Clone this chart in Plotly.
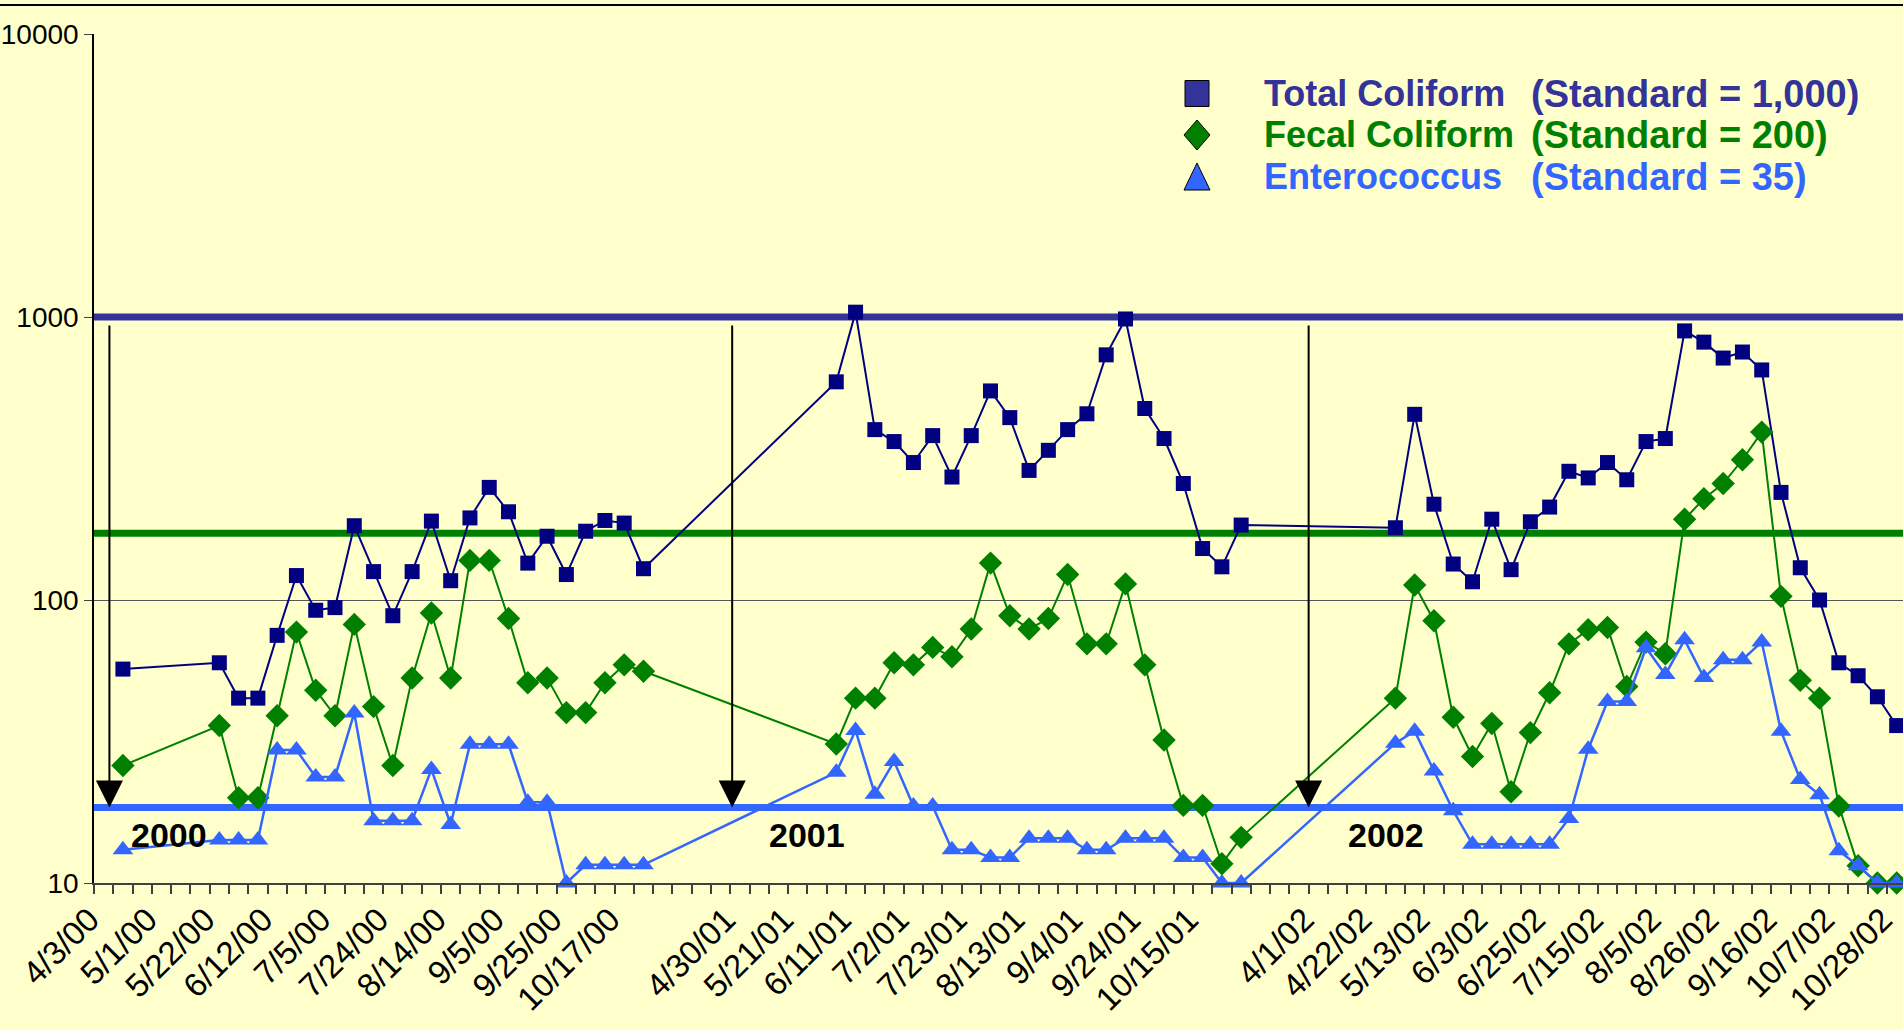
import numpy as np
import plotly.graph_objects as go

# sample slots on the category axis (one slot per sampling date)
idx_2000 = [1] + list(range(6, 29))
idx_2001 = list(range(38, 60))
idx_2002 = list(range(67, 94))

total_2000 = [57, 60, 45, 45, 75, 122, 92, 94, 183, 126, 88, 126, 190, 117, 195, 250,
              205, 135, 168, 123, 175, 191, 187, 129]
fecal_2000 = [26, 36, 20, 20, 39, 77, 48, 39, 82, 42, 26, 53, 90, 53, 138, 138,
              86, 51, 53, 40, 40, 51, 59, 56]
entero_2000 = [13.1, 14.2, 14.2, 14.2, 29.5, 29.5, 23.7, 23.7, 39.9, 16.6, 16.6, 16.6, 25.2,
               16.1, 30.9, 30.9, 30.9, 19.3, 19.3, 10, 11.6, 11.6, 11.6, 11.6]

total_2001 = [590, 1040, 400, 363, 306, 381, 272, 381, 548, 441, 287, 338, 400, 455,
              735, 984, 475, 372, 258, 152, 131, 184]
fecal_2001 = [31, 45, 45, 60, 59, 68, 63, 79, 135, 88, 79, 86, 123, 70, 70, 114,
              59, 32, 18.8, 18.8, 11.7, 14.5]
entero_2001 = [24.6, 34.6, 20.6, 26.9, 18.7, 18.7, 13.1, 13.1, 12.3, 12.3, 14.4, 14.4, 14.4,
               13.1, 13.1, 14.4, 14.4, 14.4, 12.3, 12.3, 10, 10]

total_2002 = [180, 453, 218, 134, 116, 193, 128, 189, 213, 285, 270, 306, 266, 363, 372,
              893, 815, 716, 752, 650, 240, 130, 100, 60, 54, 45.5, 36]
fecal_2002 = [45, 113, 84.5, 38.5, 28, 36.6, 21, 34, 47, 70, 78.5, 80, 49.5, 71, 64.6,
              193, 228, 258, 313, 392, 103, 52, 45, 18.7, 11.5, 10, 10]
entero_2002 = [31.2, 34.4, 24.9, 18, 13.7, 13.7, 13.7, 13.7, 13.7, 16.9, 29.7, 43.8, 43.8,
               67.8, 54.5, 72.3, 53.2, 61.5, 61.5, 71.1, 34.4, 23.2, 20.5, 13, 11.5, 10, 10]

# every third category carries a label
tick_labels = ["4/3/00", "5/1/00", "5/22/00", "6/12/00", "7/5/00", "7/24/00", "8/14/00",
               "9/5/00", "9/25/00", "10/17/00", "",
               "4/30/01", "5/21/01", "6/11/01", "7/2/01", "7/23/01", "8/13/01", "9/4/01",
               "9/24/01", "10/15/01", "",
               "4/1/02", "4/22/02", "5/13/02", "6/3/02", "6/25/02", "7/15/02", "8/5/02",
               "8/26/02", "9/16/02", "10/7/02", "10/28/02"]
n_categories = 94

series_names = ["Total Coliform", "Fecal Coliform", "Enterococcus"]
standard_text = ["(Standard = 1,000)", "(Standard = 200)", "(Standard = 35)"]
standard_lines = [1000, 172, 18.5]   # drawn levels as they appear on the chart

years = ["2000", "2001", "2002"]
year_x = [3.4, 36.5, 66.5]
arrow_x = [0.3, 32.6, 62.5]

NAVY = "#000080"
NAVY_STD = "#333399"
GREEN = "#008000"
BLUE = "#3366FF"
BG = "#FFFFCC"

W, H = 1903, 1030
ML, MR, MT, MB = 94, 0, 34, 147
PW, PH = W - ML - MR, H - MT - MB


def px(x):
    return (x - ML) / PW


def py(y):
    return (H - MB - y) / PH


x_all = idx_2000 + idx_2001 + idx_2002
total = total_2000 + total_2001 + total_2002
fecal = fecal_2000 + fecal_2001 + fecal_2002
entero = entero_2000 + entero_2001 + entero_2002

fig = go.Figure()

for val, col in zip(standard_lines, [NAVY_STD, GREEN, BLUE]):
    fig.add_trace(go.Scatter(x=[-0.6, n_categories], y=[val, val], mode="lines",
                             line=dict(color=col, width=7), hoverinfo="skip"))

fig.add_trace(go.Scatter(x=x_all, y=total, mode="lines+markers", name=series_names[0],
                         line=dict(color=NAVY, width=2),
                         marker=dict(symbol="square", size=15, color=NAVY),
                         cliponaxis=False))
fig.add_trace(go.Scatter(x=x_all, y=fecal, mode="lines+markers", name=series_names[1],
                         line=dict(color=GREEN, width=2),
                         marker=dict(symbol="diamond", size=18, color=GREEN),
                         cliponaxis=False))
fig.add_trace(go.Scatter(x=x_all, y=entero, mode="lines+markers", name=series_names[2],
                         line=dict(color=BLUE, width=2.5),
                         marker=dict(symbol="triangle-up", size=18, color=BLUE),
                         cliponaxis=False))

# arrows marking the start of each season
for xa in arrow_x:
    fig.add_annotation(x=xa, y=np.log10(18.5), ax=xa, ay=np.log10(945),
                       xref="x", yref="y", axref="x", ayref="y", text="",
                       showarrow=True, arrowhead=2, arrowsize=2.7, arrowwidth=2,
                       arrowcolor="black", standoff=0)

for xv, yr in zip(year_x, years):
    fig.add_annotation(x=xv, y=np.log10(14.8), text=f"<b>{yr}</b>", showarrow=False,
                       xref="x", yref="y", font=dict(size=34, color="black"))

# legend drawn by hand so the symbols and coloured text match
rows = [93.5, 135, 177]
sx = 1197
colors = [NAVY_STD, GREEN, BLUE]
shapes = [
    dict(type="rect", xref="paper", yref="paper",
         x0=px(sx - 12), x1=px(sx + 12), y0=py(rows[0] + 13), y1=py(rows[0] - 13),
         fillcolor=NAVY_STD, line=dict(color="black", width=1)),
    dict(type="path", xref="paper", yref="paper",
         path=(f"M{px(sx)},{py(rows[1] - 15)} L{px(sx + 13)},{py(rows[1])} "
               f"L{px(sx)},{py(rows[1] + 15)} L{px(sx - 13)},{py(rows[1])} Z"),
         fillcolor=GREEN, line=dict(color="black", width=1)),
    dict(type="path", xref="paper", yref="paper",
         path=(f"M{px(sx)},{py(rows[2] - 14)} L{px(sx + 13)},{py(rows[2] + 13)} "
               f"L{px(sx - 13)},{py(rows[2] + 13)} Z"),
         fillcolor=BLUE, line=dict(color="black", width=1)),
    dict(type="line", xref="paper", yref="paper", x0=px(0), x1=px(W), y0=py(5), y1=py(5),
         line=dict(color="black", width=2)),
]
for row, name, std, col in zip(rows, series_names, standard_text, colors):
    fig.add_annotation(x=px(1262), y=py(row), xref="paper", yref="paper", text=f"<b>{name}</b>",
                       showarrow=False, xanchor="left", yanchor="middle",
                       font=dict(size=36, color=col))
    fig.add_annotation(x=px(1529), y=py(row), xref="paper", yref="paper", text=f"<b>{std}</b>",
                       showarrow=False, xanchor="left", yanchor="middle",
                       font=dict(size=38, color=col))

fig.update_layout(
    width=W, height=H,
    margin=dict(l=ML, r=MR, t=MT, b=MB),
    paper_bgcolor=BG, plot_bgcolor=BG,
    showlegend=False,
    font=dict(family="Liberation Sans, Arial, sans-serif", color="black"),
    shapes=shapes,
)

fig.update_xaxes(
    automargin=False,
    range=[-0.5, -0.5 + PW / 19.28],
    tickmode="array", tickvals=list(range(0, n_categories, 3)), ticktext=tick_labels,
    tickangle=-45, tickfont=dict(size=33), ticklabelshift=-14, ticklabeloverflow="allow",
    ticks="outside", ticklen=2, tickcolor="rgba(0,0,0,0)",
    minor=dict(tickmode="array", tickvals=[k + 0.5 for k in range(-1, n_categories)],
               ticks="outside", ticklen=9, tickwidth=1.5, tickcolor="#404040", showgrid=False),
    showgrid=False, zeroline=False, showline=True, linecolor="#404040", linewidth=2,
)
fig.update_yaxes(
    automargin=False,
    type="log", range=[1, 4],
    tickvals=[10, 100, 1000, 10000], ticktext=["10", "100", "1000", "10000"],
    ticks="outside", ticklen=8, tickcolor="#404040", tickfont=dict(size=28),
    showgrid=True, gridcolor="#555555", gridwidth=1,
    showline=True, linecolor="black", linewidth=1.5, zeroline=False,
)

fig.write_html("out.html", config={"displayModeBar": False},
               post_script="document.body.style.margin='0';")
